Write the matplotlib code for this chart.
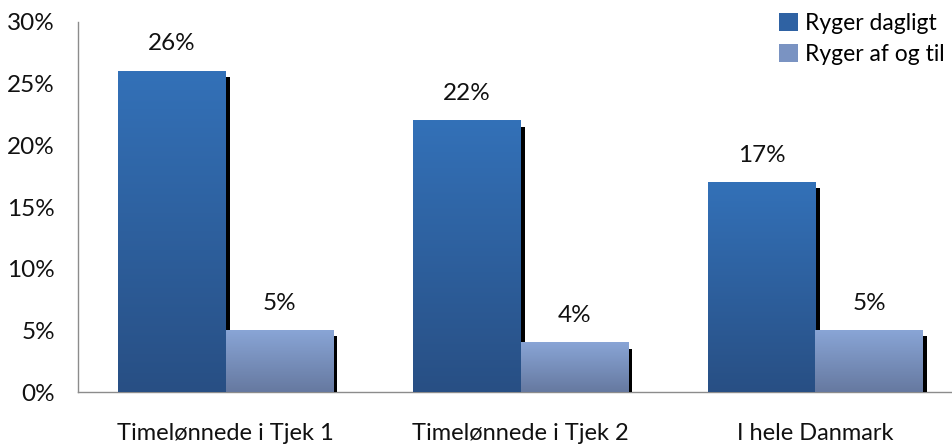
import numpy as np
import matplotlib
matplotlib.use("Agg")
import matplotlib.pyplot as plt
import matplotlib.transforms as mtransforms
from matplotlib.patches import Patch
from matplotlib.colors import LinearSegmentedColormap

categories = ["Timelønnede i Tjek 1", "Timelønnede i Tjek 2", "I hele Danmark"]
series_names = ["Ryger dagligt", "Ryger af og til"]
daily = [26, 22, 17]
sometimes = [5, 4, 5]
yticks = [0, 5, 10, 15, 20, 25, 30]

plt.rcParams['font.family'] = ['Lato', 'DejaVu Sans']

fig = plt.figure(figsize=(9.52, 4.44), dpi=100)
ax = fig.add_axes([78/952, 52/444, 885/952, 370/444])

x = np.arange(len(categories))
w = 0.366
tops = [("#3371B8", "#284F84"), ("#89A5D6", "#6679A0")]
mids = ["#2F62A3", "#7A93C2"]

shadow_tr = mtransforms.offset_copy(ax.transData, fig=fig, x=4, y=-6, units='dots')

for i, (vals, off) in enumerate([(daily, -w/2), (sometimes, w/2)]):
    z = 2 + i * 3
    ax.bar(x + off, vals, w, color='black', transform=shadow_tr, zorder=z)
    bars = ax.bar(x + off, vals, w, color=mids[i], zorder=z + 1)
    cmap = LinearSegmentedColormap.from_list(f"g{i}", [tops[i][1], tops[i][0]])
    grad = np.linspace(1, 0, 256).reshape(-1, 1)
    for b, v in zip(bars, vals):
        ax.imshow(grad, cmap=cmap, vmin=0, vmax=1, aspect='auto', zorder=z + 1.5,
                  extent=[b.get_x(), b.get_x() + b.get_width(), 0, b.get_height()])
        ax.annotate(f"{v}%", (b.get_x() + b.get_width()/2, v), xytext=(0, 15),
                    textcoords='offset points', ha='center', va='baseline', fontsize=17.5,
                    color='#111111')

ax.set_xlim(-0.5, 2.5)
ax.set_ylim(0, 30)
ax.set_yticks(yticks)
ax.set_yticklabels([f"{t}%" for t in yticks], fontsize=17.5, color='#111111')
ax.set_xticks(x)
ax.set_xticklabels(categories, fontsize=17, color='#111111')
ax.tick_params(axis='y', length=0, pad=16.5)
ax.tick_params(axis='x', length=0, pad=22)
for s in ['top', 'right']:
    ax.spines[s].set_visible(False)
for s in ['left', 'bottom']:
    ax.spines[s].set_color('#8c8c8c')
    ax.spines[s].set_linewidth(1)

handles = [Patch(facecolor=mids[0]), Patch(facecolor=mids[1])]
fig.legend(handles, series_names, loc='upper right', bbox_to_anchor=(950/952, 1 - 7/444),
           frameon=False, fontsize=16.5, handlelength=0.8, handleheight=0.8,
           handletextpad=0.3, labelspacing=0.45, borderaxespad=0.0, borderpad=0.25)

fig.savefig("out.png", dpi=100)
